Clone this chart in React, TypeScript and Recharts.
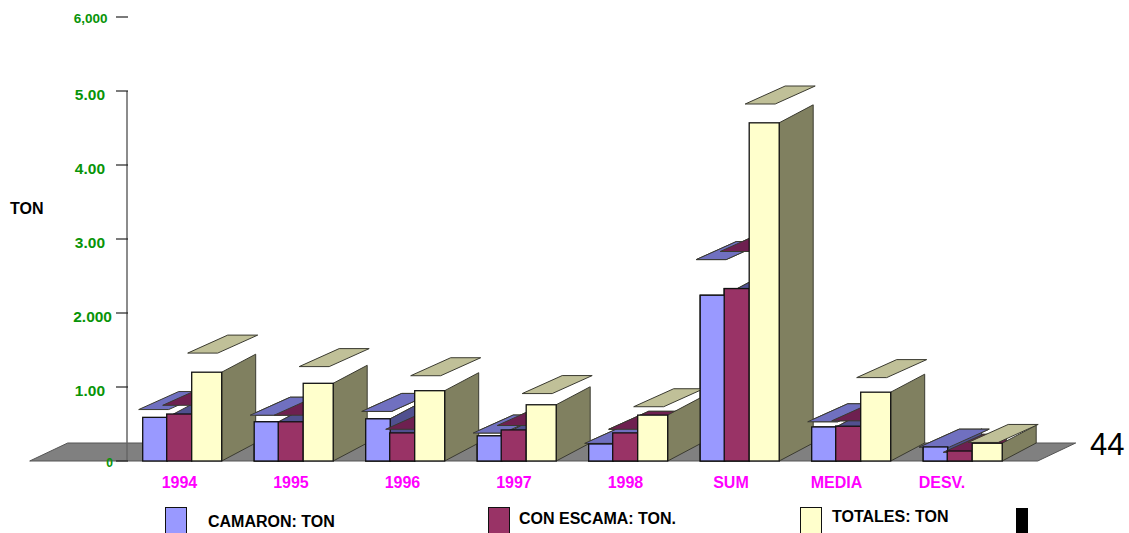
import { BarChart, Bar, XAxis, YAxis, ReferenceArea } from "recharts";

const categories = ["1994", "1995", "1996", "1997", "1998", "SUM", "MEDIA", "DESV."];
const camaron = [0.59, 0.53, 0.57, 0.34, 0.23, 2.24, 0.46, 0.19];
const escama = [0.635, 0.53, 0.38, 0.42, 0.38, 2.33, 0.47, 0.135];
const totales = [1.2, 1.05, 0.95, 0.76, 0.62, 4.57, 0.93, 0.24];
const yTicks = [0, 1, 2, 3, 4, 5, 6];
const yTickLabels = ["0", "1.00", "2.000", "3.00", "4.00", "5.00", "6,000"];

const chartData = categories.map((name, i) => ({
  name,
  camaron: camaron[i],
  escama: escama[i],
  totales: totales[i],
}));

// the old 3D export has uneven label sizes and offsets, so these are tuned by eye
const yLabelStyle = [
  { size: 12, right: 113, drop: 6 },
  { size: 15.5, right: 105, drop: 8.5 },
  { size: 15.5, right: 112, drop: 8.5 },
  { size: 15.5, right: 105, drop: 8.5 },
  { size: 15.5, right: 105, drop: 8.5 },
  { size: 15.5, right: 105, drop: 8.5 },
  { size: 13.5, right: 107.5, drop: 5.5 },
];
const xLabelShift = [-2, -2, -2, -2, -2, -8, -14, -20];

const boxes = {
  camaron: { dx: 0, w: 24.5, front: "#9999FF", side: "#50508F", lid: "#7070C0" },
  escama: { dx: -2, w: 25, front: "#993366", side: "#6B2048", lid: "#6E2050" },
  totales: { dx: -3, w: 30, front: "#FFFFCC", side: "#808060", lid: "#C0C098" },
};

const DEPTH_X = 34;
const DEPTH_Y = 18;

// boxes overlap front to back per category, but recharts paints per series,
// so the totales layer repaints the next category's two smaller boxes
const drawnShapes: Record<string, any[]> = { camaron: [], escama: [] };

function Box3D(props: any) {
  const { x, y, height, kind } = props;
  const b = boxes[kind as keyof typeof boxes];
  const left = x + b.dx;
  const right = left + b.w;
  const base = y + height;
  // the lid floats above the bar, further for taller bars
  const lidY = base - Math.min(height * 1.27 - 4, height * 1.215, 357);
  const lidX = left - 4;
  return (
    <g>
      <polygon
        points={`${right},${y} ${right + DEPTH_X},${y - DEPTH_Y} ${right + DEPTH_X},${base - DEPTH_Y} ${right},${base}`}
        fill={b.side}
        stroke="#3a3a30"
        strokeWidth={1}
      />
      <polygon
        points={`${lidX},${lidY} ${lidX + 30},${lidY} ${lidX + 70},${lidY - DEPTH_Y} ${lidX + 40},${lidY - DEPTH_Y}`}
        fill={b.lid}
        stroke="#3a3a30"
        strokeWidth={1}
      />
      <rect x={left} y={y} width={b.w} height={height} fill={b.front} stroke="#111" strokeWidth={1.3} />
    </g>
  );
}

function SmallBox(props: any) {
  drawnShapes[props.kind][props.index] = { x: props.x, y: props.y, height: props.height };
  return <Box3D {...props} />;
}

function TotalBox(props: any) {
  const next = props.index + 1;
  const c = drawnShapes.camaron[next];
  const e = drawnShapes.escama[next];
  return (
    <g>
      <Box3D {...props} kind="totales" />
      {c && <Box3D {...c} kind="camaron" />}
      {e && <Box3D {...e} kind="escama" />}
    </g>
  );
}

function Floor(props: any) {
  const { x, y, width, height } = props;
  const base = y + height;
  return (
    <polygon
      points={`${x - 96},${base} ${x + width + 20},${base} ${x + width + 58},${y} ${x - 58},${y}`}
      fill="#808080"
      stroke="#555"
      strokeWidth={1}
    />
  );
}

function AxisLine(props: any) {
  const { x, y, height } = props;
  return <line x1={x + 1.3} x2={x + 1.3} y1={y} y2={y + height} stroke="#666" strokeWidth={1.5} />;
}

function YTick(props: any) {
  const { y, index } = props;
  const s = yLabelStyle[index];
  return (
    <g>
      <line x1={116} x2={128} y1={y} y2={y} stroke="#222" strokeWidth={1.2} />
      <text
        x={s.right}
        y={y + s.drop}
        textAnchor="end"
        fontSize={s.size}
        fontWeight="bold"
        fontFamily="Liberation Sans"
        fill="#089408"
      >
        {yTickLabels[index]}
      </text>
    </g>
  );
}

function XTick(props: any) {
  const { x, index, payload } = props;
  return (
    <text
      x={x + xLabelShift[index]}
      y={488}
      textAnchor="middle"
      fontSize={16}
      fontWeight="bold"
      fontFamily="Liberation Sans"
      fill="#FF00FF"
    >
      {payload.value}
    </text>
  );
}

const legendItems = [
  { label: "CAMARON: TON", color: boxes.camaron.front, swatch: 165, text: 208, top: 522 },
  { label: "CON ESCAMA: TON.", color: boxes.escama.front, swatch: 488, text: 519, top: 519 },
  { label: "TOTALES: TON", color: boxes.totales.front, swatch: 800, text: 832, top: 517 },
];

const labelFont = { fontFamily: "Liberation Sans", fontWeight: "bold", fontSize: 16, color: "#000" };

export default function App() {
  return (
    <div style={{ position: "absolute", left: 0, top: 0, width: 1129, height: 533, overflow: "hidden", background: "#fff" }}>
      <BarChart
        width={1129}
        height={533}
        data={chartData}
        margin={{ top: 17, right: 111.3, bottom: 0, left: 0 }}
        barGap={0}
        barSize={26}
      >
        <XAxis dataKey="name" height={72} axisLine={false} tickLine={false} tick={<XTick />} interval={0} />
        <YAxis
          width={125.7}
          domain={[0, 6]}
          ticks={yTicks}
          interval={0}
          axisLine={false}
          tickLine={false}
          tick={<YTick />}
        />
        <ReferenceArea y1={0} y2={18 / 74} shape={<Floor />} />
        <ReferenceArea y1={0} y2={5} shape={<AxisLine />} />
        <Bar dataKey="camaron" isAnimationActive={false} shape={(p: any) => <SmallBox {...p} kind="camaron" />} />
        <Bar dataKey="escama" isAnimationActive={false} shape={(p: any) => <SmallBox {...p} kind="escama" />} />
        <Bar dataKey="totales" isAnimationActive={false} shape={(p: any) => <TotalBox {...p} />} />
      </BarChart>

      <div style={{ ...labelFont, position: "absolute", left: 10, top: 200 }}>TON</div>
      <div style={{ position: "absolute", left: 1090, top: 427, fontFamily: "Liberation Sans", fontSize: 31, color: "#000" }}>44</div>
      {legendItems.map((d) => (
        <div key={d.label}>
          <div
            style={{
              position: "absolute",
              left: d.swatch,
              top: 507,
              width: 20,
              height: 30,
              background: d.color,
              border: "1.3px solid #111",
            }}
          />
          <div style={{ ...labelFont, position: "absolute", left: d.text, top: d.top - 9, whiteSpace: "nowrap" }}>{d.label}</div>
        </div>
      ))}
      <div style={{ position: "absolute", left: 1016, top: 508, width: 12, height: 25, background: "#000" }} />
    </div>
  );
}
